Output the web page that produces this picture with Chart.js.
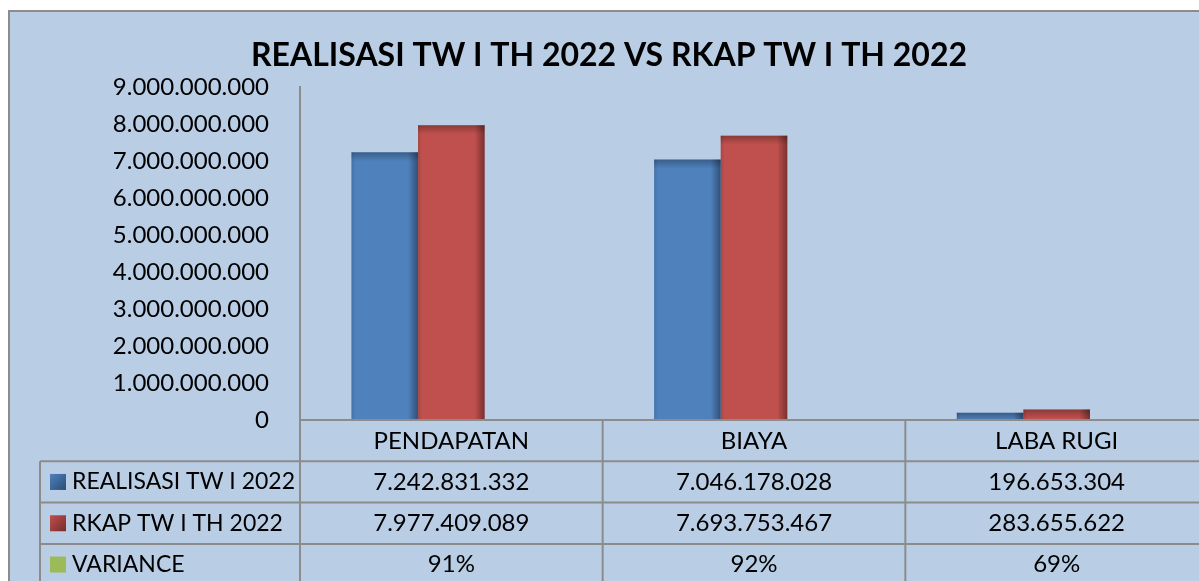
<!DOCTYPE html>
<html>
<head>
<meta charset="utf-8">
<title>Realisasi TW I 2022</title>
<script src="https://cdn.jsdelivr.net/npm/chart.js@4.4.1/dist/chart.umd.min.js"></script>
<style>
    html, body { margin: 0; padding: 0; background: #fff; overflow: hidden; }
    #frame {
        position: absolute; left: 8px; top: 10px;
        width: 1300px; height: 700px;
        background: #b9cde5;
        border-left: 2px solid #8c8c8c; border-top: 2px solid #8c8c8c;
    }
    #chart { position: absolute; left: 0; top: 0; }
</style>
</head>
<body>
<div id="frame"><canvas id="chart" width="1200" height="570"></canvas></div>
<script>
const categories = ["PENDAPATAN", "BIAYA", "LABA RUGI"];
const seriesNames = ["REALISASI TW I 2022", "RKAP TW I TH 2022", "VARIANCE"];
const realisasi = [7242831332, 7046178028, 196653304];
const rkap = [7977409089, 7693753467, 283655622];
const variance = [0.91, 0.92, 0.69];
const yMax = 9000000000;
const yStep = 1000000000;

const colors = ["#4f81bd", "#c0504d", "#9bbb59"];
const gridColor = "#8c8c8c";
const FONT = "Lato";

function fmt(n) {
    return String(Math.round(n)).replace(/\B(?=(\d{3})+(?!\d))/g, ".");
}
function pct(v) {
    return Math.round(v * 100) + "%";
}

// sedikit efek 3D seperti bar Excel
const barShade = {
    id: "barShade",
    afterDatasetsDraw(chart) {
        const ctx = chart.ctx;
        chart.data.datasets.forEach((ds, di) => {
            const meta = chart.getDatasetMeta(di);
            meta.data.forEach(bar => {
                const { x, y, base, width } = bar.getProps(["x", "y", "base", "width"], true);
                const l = x - width / 2, r = x + width / 2, h = base - y;
                if (h < 1) return;
                ctx.save();
                let g = ctx.createLinearGradient(r - 10, 0, r, 0);
                g.addColorStop(0, "rgba(0,0,0,0)");
                g.addColorStop(1, "rgba(0,0,0,0.38)");
                ctx.fillStyle = g;
                ctx.fillRect(r - 10, y, 10, h);
                const th = Math.min(9, h);
                g = ctx.createLinearGradient(0, y, 0, y + th);
                g.addColorStop(0, "rgba(0,0,0,0.28)");
                g.addColorStop(1, "rgba(0,0,0,0)");
                ctx.fillStyle = g;
                ctx.fillRect(l, y, width, th);
                g = ctx.createLinearGradient(l, 0, l + 4, 0);
                g.addColorStop(0, "rgba(0,0,0,0.12)");
                g.addColorStop(1, "rgba(0,0,0,0)");
                ctx.fillStyle = g;
                ctx.fillRect(l, y, 4, h);
                ctx.restore();
            });
        });
    }
};

// tabel data di bawah grafik
const dataTable = {
    id: "dataTable",
    afterDraw(chart) {
        const ctx = chart.ctx;
        const a = chart.chartArea;
        const xs = chart.scales.x;
        const n = categories.length;
        const colW = a.width / n;
        const rowH = 41.3;
        const top = a.bottom;
        const left = 30;
        const rows = [realisasi.map(fmt), rkap.map(fmt), variance.map(pct)];

        ctx.save();
        ctx.strokeStyle = gridColor;
        ctx.lineWidth = 2;
        ctx.beginPath();
        ctx.moveTo(a.left, top); ctx.lineTo(chart.width, top);
        for (let r = 1; r <= 4; r++) {
            ctx.moveTo(left, top + r * rowH); ctx.lineTo(chart.width, top + r * rowH);
        }
        ctx.moveTo(left, top + rowH); ctx.lineTo(left, chart.height);
        for (let i = 0; i <= n; i++) {
            const bx = a.left + i * colW;
            ctx.moveTo(bx, top); ctx.lineTo(bx, chart.height);
        }
        ctx.stroke();

        ctx.fillStyle = "#000";
        ctx.textBaseline = "middle";
        ctx.textAlign = "center";
        ctx.font = "24px " + FONT;
        categories.forEach((c, i) => {
            ctx.fillText(c, xs.getPixelForValue(i), top + rowH / 2 + 1);
        });
        rows.forEach((vals, r) => {
            const cy = top + (r + 1.5) * rowH;
            vals.forEach((v, i) => ctx.fillText(v, xs.getPixelForValue(i), cy));
        });

        ctx.textAlign = "left";
        ctx.font = "23px " + FONT;
        seriesNames.forEach((s, r) => {
            const cy = top + (r + 1.5) * rowH;
            const g = ctx.createLinearGradient(40, cy - 8, 56, cy + 8);
            if (r < 2) {
                g.addColorStop(0, colors[r]);
                g.addColorStop(1, r === 0 ? "#2c4d75" : "#772c2a");
            } else {
                g.addColorStop(0, colors[r]);
                g.addColorStop(1, colors[r]);
            }
            ctx.fillStyle = g;
            ctx.fillRect(40, cy - 8, 16, 16);
            ctx.fillStyle = "#000";
            ctx.fillText(s, 62, cy);
        });
        ctx.restore();
    }
};

new Chart(document.getElementById("chart"), {
    type: "bar",
    data: {
        labels: categories,
        datasets: [
            { label: seriesNames[0], data: realisasi, backgroundColor: colors[0] },
            { label: seriesNames[1], data: rkap, backgroundColor: colors[1] },
            { label: seriesNames[2], data: variance, backgroundColor: colors[2] }
        ]
    },
    options: {
        responsive: false,
        animation: false,
        devicePixelRatio: 1,
        layout: { padding: { left: 0, right: 2, top: 0, bottom: 162 } },
        datasets: { bar: { categoryPercentage: 0.66, barPercentage: 1 } },
        plugins: {
            legend: { display: false },
            tooltip: { enabled: false },
            title: {
                display: true,
                text: "REALISASI TW I TH 2022 VS RKAP TW I TH 2022",
                color: "#000",
                font: { family: FONT, size: 32, weight: "bold", lineHeight: 1.2 },
                padding: { top: 24, bottom: 13 }
            }
        },
        scales: {
            x: { display: false },
            y: {
                min: 0,
                max: yMax,
                afterFit: s => { s.width = 290; },
                grid: { display: false, drawTicks: false },
                border: { display: true, color: gridColor, width: 2 },
                ticks: {
                    stepSize: yStep,
                    padding: 31,
                    color: "#000",
                    font: { family: FONT, size: 24 },
                    callback: v => fmt(v)
                }
            }
        }
    },
    plugins: [barShade, dataTable]
});
</script>
</body>
</html>
